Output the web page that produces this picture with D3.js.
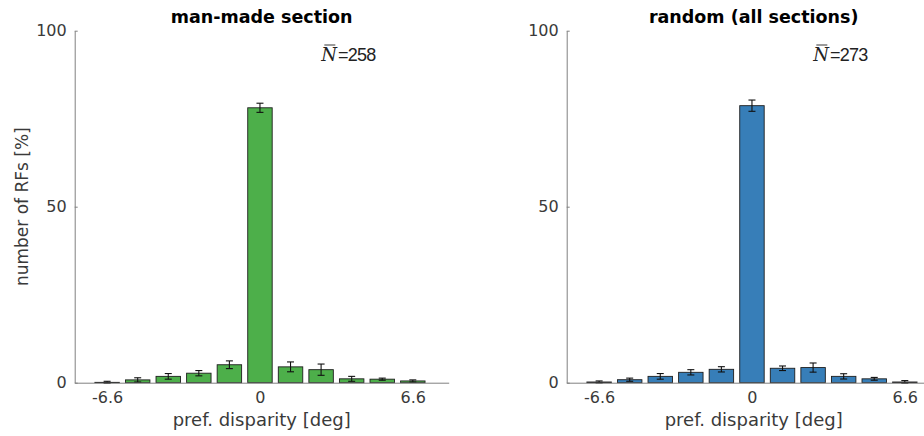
<!DOCTYPE html>
<html>
<head>
<meta charset="utf-8">
<script src="https://cdn.jsdelivr.net/npm/d3@7"></script>
<style>
  html, body { margin: 0; padding: 0; background: #fff; }
  svg { display: block; }
</style>
</head>
<body>
<svg id="fig" width="924" height="436"></svg>
<script>
// Preferred-disparity bins (deg)
const disparities = [-6.6, -5.28, -3.96, -2.64, -1.32, 0, 1.32, 2.64, 3.96, 5.28, 6.6];
const xTicks = [-6.6, 0, 6.6];
const xTickLabels = ["-6.6", "0", "6.6"];
const yTicks = [0, 50, 100];

// Panel 1: man-made section
const manMadeTitle = "man-made section";
const manMadeN = "258";
const manMadePct = [0.1, 0.8, 1.8, 2.7, 5.1, 78.1, 4.5, 3.7, 1.1, 1.0, 0.5];
const manMadeErr = [0.3, 0.6, 0.8, 0.75, 1.1, 1.3, 1.4, 1.6, 0.7, 0.3, 0.3];

// Panel 2: random (all sections)
const randomTitle = "random (all sections)";
const randomN = "273";
const randomPct = [0.2, 0.85, 1.8, 2.95, 3.8, 78.7, 4.1, 4.3, 1.8, 1.1, 0.2];
const randomErr = [0.3, 0.45, 0.8, 0.75, 0.75, 1.6, 0.65, 1.3, 0.75, 0.4, 0.4];

const svg = d3.select("#fig");
const font = "'DejaVu Sans', sans-serif";
const axisColor = "#808080";
const textColor = "#3a3a3a";

const plotH = { top: 30.7, bottom: 382.7 };
const plotW = 374;
const binW = 1.32 * 0.8;

function panel(left, title, nLabel, pct, err, fill, showYLabel) {
  const x = d3.scaleLinear().domain([-8, 8.15]).range([left, left + plotW]);
  const y = d3.scaleLinear().domain([0, 100]).range([plotH.bottom, plotH.top]);
  const g = svg.append("g");

  // bars
  g.selectAll("rect.bar").data(disparities).join("rect")
    .attr("class", "bar")
    .attr("x", (d) => x(d - binW / 2))
    .attr("width", (d) => x(d + binW / 2) - x(d - binW / 2))
    .attr("y", (d, i) => y(pct[i]))
    .attr("height", (d, i) => y(0) - y(pct[i]))
    .attr("fill", fill)
    .attr("stroke", "#1e1e1e")
    .attr("stroke-width", 0.9);

  // error bars
  const cap = 3.5;
  const eb = g.selectAll("g.err").data(disparities).join("g").attr("class", "err")
    .attr("stroke", "#111").attr("stroke-width", 1.1);
  eb.append("line")
    .attr("x1", (d) => x(d)).attr("x2", (d) => x(d))
    .attr("y1", (d, i) => y(pct[i] - err[i])).attr("y2", (d, i) => y(pct[i] + err[i]));
  eb.append("line")
    .attr("x1", (d) => x(d) - cap).attr("x2", (d) => x(d) + cap)
    .attr("y1", (d, i) => y(pct[i] + err[i])).attr("y2", (d, i) => y(pct[i] + err[i]));
  eb.append("line")
    .attr("x1", (d) => x(d) - cap).attr("x2", (d) => x(d) + cap)
    .attr("y1", (d, i) => y(pct[i] - err[i])).attr("y2", (d, i) => y(pct[i] - err[i]));

  // y axis (ticks pointing inward)
  const ya = g.append("g").attr("transform", `translate(${left},0)`)
    .call(d3.axisRight(y).tickValues(yTicks).tickSize(3).tickSizeOuter(0));
  ya.select(".domain").attr("stroke", axisColor);
  ya.selectAll(".tick line").attr("stroke", axisColor);
  ya.selectAll(".tick text")
    .attr("x", -8).attr("text-anchor", "end")
    .attr("fill", textColor).style("font", `16px ${font}`);

  // x axis
  const xa = g.append("g").attr("transform", `translate(0,${plotH.bottom})`)
    .call(d3.axisBottom(x).tickValues(xTicks).tickSize(0).tickSizeOuter(0)
      .tickFormat((d, i) => xTickLabels[i]));
  xa.select(".domain").attr("stroke", axisColor);
  xa.selectAll(".tick text")
    .attr("y", 9).attr("fill", textColor).style("font", `16px ${font}`);

  // x axis label
  g.append("text")
    .attr("x", left + plotW / 2).attr("y", 426)
    .attr("text-anchor", "middle").attr("fill", textColor)
    .style("font", `18px ${font}`)
    .text("pref. disparity [deg]");

  // title
  g.append("text")
    .attr("x", left + plotW / 2).attr("y", 23)
    .attr("text-anchor", "middle").attr("fill", "#000")
    .style("font", `bold 17.5px ${font}`)
    .text(title);

  // mean count annotation
  const nx = x(2.65), ny = 61;
  const nt = g.append("text").attr("x", nx).attr("y", ny).attr("fill", "#222");
  nt.append("tspan").style("font", "italic 18px 'DejaVu Serif', serif").text("N");
  nt.append("tspan").attr("dx", 1)
    .style("font", "18px 'Liberation Sans', sans-serif")
    .style("letter-spacing", "-0.8px")
    .text("=" + nLabel);
  g.append("line")
    .attr("x1", nx + 3).attr("x2", nx + 14)
    .attr("y1", ny - 16).attr("y2", ny - 16)
    .attr("stroke", "#222").attr("stroke-width", 0.9);

  if (showYLabel) {
    g.append("text")
      .attr("transform", `translate(28,${(plotH.top + plotH.bottom) / 2}) rotate(-90)`)
      .attr("text-anchor", "middle").attr("fill", textColor)
      .style("font", `17px ${font}`)
      .text("number of RFs [%]");
  }
}

panel(74.7, manMadeTitle, manMadeN, manMadePct, manMadeErr, "#4daf4a", true);
panel(566.7, randomTitle, randomN, randomPct, randomErr, "#377eb8", false);
</script>
</body>
</html>
